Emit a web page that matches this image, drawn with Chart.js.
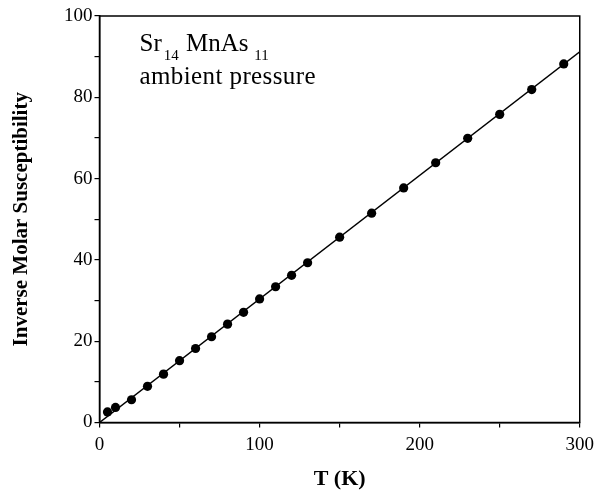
<!DOCTYPE html>
<html>
<head>
<meta charset="utf-8">
<script src="https://cdn.jsdelivr.net/npm/chart.js@4/dist/chart.umd.min.js"></script>
<style>
  html, body { margin: 0; padding: 0; background: #fff; }
  #wrap { width: 600px; height: 490px; }
</style>
</head>
<body>
<div id="wrap"><canvas id="c" width="600" height="490"></canvas></div>
<script>
const temperatures = [5, 10, 20, 30, 40, 50, 60, 70, 80, 90, 100, 110, 120, 130, 150, 170, 190, 210, 230, 250, 270, 290];
const inverseChi   = [2.6, 3.7, 5.6, 8.9, 11.9, 15.2, 18.2, 21.1, 24.2, 27.1, 30.4, 33.4, 36.2, 39.3, 45.6, 51.5, 57.7, 63.9, 69.9, 75.8, 81.9, 88.2];
// Fitted straight line endpoints
const fitT = [0, 300];
const fitV = [0, 91.2];
// Axis tick labels
const xTickLabels = [0, 100, 200, 300];
const yTickLabels = [0, 20, 40, 60, 80, 100];
// Annotation text
const compoundParts = [["Sr", false], ["14", true], [" MnAs", false], [" 11", true]];
const conditionText = "ambient pressure";
const xTitle = "T (K)";
const yTitle = "Inverse Molar Susceptibility";

const serif = "'Liberation Serif', 'Times New Roman', serif";

const boxAndText = {
  id: 'boxAndText',
  afterDraw(chart) {
    const ctx = chart.ctx;
    const a = chart.chartArea;
    ctx.save();
    ctx.strokeStyle = '#000';
    ctx.lineWidth = 1.5;
    ctx.strokeRect(a.left, a.top, a.right - a.left, a.bottom - a.top);
    // annotation
    ctx.fillStyle = '#000';
    ctx.textAlign = 'left';
    ctx.textBaseline = 'alphabetic';
    let x = 139.5;
    const base = 51;
    for (const [txt, sub] of compoundParts) {
      ctx.font = (sub ? '15px ' : '25px ') + serif;
      ctx.fillText(txt, x, sub ? base + 9 : base);
      x += ctx.measureText(txt).width + (sub ? 1 : 2);
    }
    ctx.font = '25px ' + serif;
    try { ctx.letterSpacing = '0.4px'; } catch (e) {}
    ctx.fillText(conditionText, 139.5, 84);
    ctx.restore();
  }
};

const tickFont = { family: serif, size: 19 };

new Chart(document.getElementById('c'), {
  type: 'scatter',
  data: {
    datasets: [
      {
        label: 'fit',
        data: fitT.map((t, i) => ({ x: t, y: fitV[i] })),
        showLine: true,
        borderColor: '#000',
        borderWidth: 1.5,
        pointRadius: 0,
        fill: false
      },
      {
        label: 'data',
        data: temperatures.map((t, i) => ({ x: t, y: inverseChi[i] })),
        showLine: false,
        pointRadius: 4.6,
        pointBackgroundColor: '#000',
        pointBorderWidth: 0,
        borderColor: '#000'
      }
    ]
  },
  options: {
    responsive: false,
    animation: false,
    layout: { padding: { left: 0, top: 16, right: 17.5, bottom: 0 } },
    plugins: { legend: { display: false }, tooltip: { enabled: false } },
    scales: {
      x: {
        type: 'linear',
        min: 0, max: 300,
        afterFit(s) { s.height = 67.5; },
        ticks: {
          stepSize: 50,
          autoSkip: false,
          maxRotation: 0,
          color: '#000',
          font: tickFont,
          padding: 6,
          callback: v => xTickLabels.includes(v) ? String(v) : ''
        },
        grid: { drawOnChartArea: false, drawTicks: true, tickLength: 5, color: '#000', lineWidth: 1.2 },
        border: { display: true, color: '#000', width: 1.5 },
        title: {
          display: true, text: xTitle, color: '#000',
          font: { family: serif, size: 22, weight: 'bold', lineHeight: 1 },
          padding: { top: 0, bottom: 0 }
        }
      },
      y: {
        type: 'linear',
        min: 0, max: 100,
        afterFit(s) { s.width = 99.5; },
        ticks: {
          stepSize: 10,
          autoSkip: false,
          color: '#000',
          font: tickFont,
          padding: 2,
          callback: v => yTickLabels.includes(v) ? String(v) : ''
        },
        grid: { drawOnChartArea: false, drawTicks: true, tickLength: 5, color: '#000', lineWidth: 1.2 },
        border: { display: true, color: '#000', width: 1.5 },
        title: {
          display: true, text: yTitle, color: '#000',
          font: { family: serif, size: 21, weight: 'bold', lineHeight: 1 },
          padding: { top: 11, bottom: 0 }
        }
      }
    }
  },
  plugins: [boxAndText]
});
</script>
</body>
</html>
